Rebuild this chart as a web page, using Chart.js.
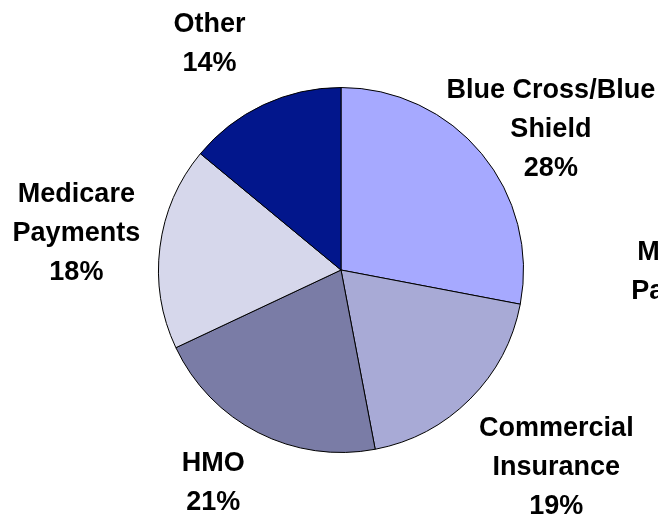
<!DOCTYPE html>
<html>
<head>
<meta charset="utf-8">
<script src="https://cdn.jsdelivr.net/npm/chart.js@4.4.0/dist/chart.umd.min.js"></script>
<style>
    html, body { margin: 0; padding: 0; background: #fff; }
    #wrap { width: 658px; height: 517px; }
</style>
</head>
<body>
<div id="wrap"><canvas id="payerChart" width="658" height="517"></canvas></div>
<script>
    // payer mix, clockwise from 12 o'clock
    const categories = [
        ['Blue Cross/Blue', 'Shield'],
        ['Medicaid', 'Payments'],
        ['Commercial', 'Insurance'],
        ['HMO'],
        ['Medicare', 'Payments'],
        ['Other']
    ];
    const shares = [28, 0, 19, 21, 18, 14];
    const sliceColors = ['#A6A9FF', '#8F93E0', '#A8AAD6', '#7A7CA6', '#D6D7EB', '#02168C'];

    // label block centre, as a multiple of the pie radius from the pie centre
    const labelOffsets = [
        [1.15, -0.77],
        [1.94, 0.12],
        [1.18, 1.08],
        [-0.70, 1.17],
        [-1.45, -0.20],
        [-0.72, -1.24]
    ];

    const sliceLabels = {
        id: 'sliceLabels',
        afterDraw(chart) {
            const ctx = chart.ctx;
            const meta = chart.getDatasetMeta(0);
            const total = shares.reduce(function (a, b) { return a + b; }, 0);
            ctx.save();
            ctx.fillStyle = '#000';
            ctx.font = 'bold 27px "Liberation Sans", Arial, sans-serif';
            ctx.textAlign = 'center';
            ctx.textBaseline = 'middle';
            const lineH = 39;
            meta.data.forEach(function (arc, i) {
                const lines = categories[i].concat([Math.round(shares[i] / total * 100) + '%']);
                const off = labelOffsets[i];
                const cx = arc.x + off[0] * arc.outerRadius;
                const cy = arc.y + off[1] * arc.outerRadius;
                const top = cy - (lines.length - 1) * lineH / 2;
                lines.forEach(function (t, k) {
                    ctx.fillText(t, cx, top + k * lineH);
                });
            });
            ctx.restore();
        }
    };

    new Chart(document.getElementById('payerChart'), {
        type: 'pie',
        data: {
            labels: categories,
            datasets: [{
                data: shares,
                backgroundColor: sliceColors,
                borderColor: '#000',
                borderWidth: 1
            }]
        },
        options: {
            responsive: false,
            animation: false,
            layout: { padding: { left: 158, right: 134, top: 87, bottom: 64 } },
            plugins: {
                legend: { display: false },
                tooltip: { enabled: false }
            }
        },
        plugins: [sliceLabels]
    });
</script>
</body>
</html>
